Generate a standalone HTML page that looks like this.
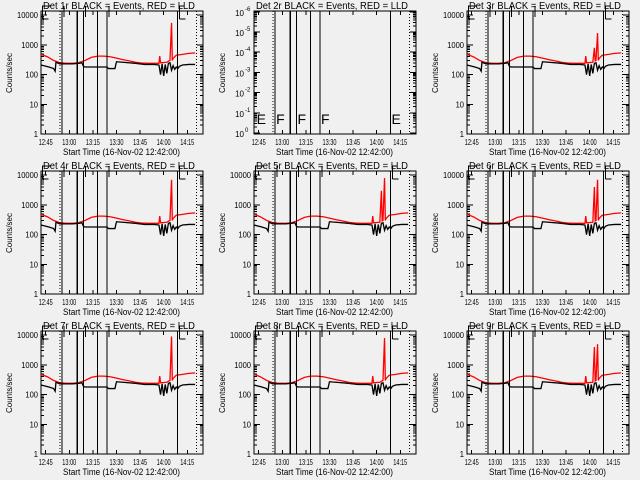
<!DOCTYPE html>
<html><head><meta charset="utf-8"><style>
html,body{margin:0;padding:0;background:#f0f0f0;}
svg{display:block;font-family:"Liberation Sans",sans-serif;}
</style></head><body>
<svg id="c" width="640" height="480" viewBox="0 0 640 480" shape-rendering="crispEdges"></svg>
<script>
// ---- data ----
const detNames = ["1r","2r","3r","4r","5r","6r","7r","8r","9r"];
const xTickLabels = ["12:45","13:00","13:15","13:30","13:45","14:00","14:15"];
const xTickMinutes = [3,18,33,48,63,78,93];
const yTickValues = [1,10,100,1000,10000];
const yTickLabels = ["1","10","100","1000","10000"];
const solidLineMinutes = [13.4,23,27,36,42,86.8];
const dottedLineMinutes = [12,99];
const redT = [0,4,8,12,16,20,24,28,32,36,40,44,48,52,56,60,64,68,72,75,75.5,76,80,81,81.5,82,83,83.5,84,86,90,94,98];
const redBase = [480,400,300,250,240,240,250,300,380,420,420,400,360,320,290,260,245,240,240,240,420,250,260,280,290,300,300,300,350,450,480,520,540];
const redPeak = [5500,null,2500,7000,8000,7000,9000,8000,5000];
const redPeak2 = [0,null,800,0,3000,4000,0,0,4000];
const blackT = [0,5,8,9,9.5,12,16,20,24,26,27,28,34,42,43,47,48,52,60,66,72,75,76,77,78,79,80,81,82,83,84,85,86,87,88,90,94,98];
const blackV = [210,180,160,130,260,230,230,230,240,250,190,180,180,180,160,160,270,260,240,220,220,210,100,230,90,220,110,240,250,140,200,150,180,160,190,210,220,220];
const markerMinutes = [1,13.4,27,42,86.8];
const markerLetters = ["E","F","F","F","E"];

const NS="http://www.w3.org/2000/svg";
const svg=document.getElementById('c');
function mk(tag,attrs,parent){const e=document.createElementNS(NS,tag);for(const k in attrs)e.setAttribute(k,attrs[k]);(parent||svg).appendChild(e);return e;}

for(let p=0;p<9;p++){
  const ox=(p%3)*213, oy=Math.floor(p/3)*160;
  const g=mk('g',{});
  
  
  const X0=ox+41,X1=ox+203,Y0=oy+11,Y1=oy+134;
  const xs=t=>X0+t*(X1-X0)/103;
  const ys=v=>Y1-Math.log10(v)*29.7;
  const ti=mk('text',{x:ox+43,y:oy+9,'font-size':10,fill:'#000',textLength:152,lengthAdjust:'spacingAndGlyphs'},g);
  ti.textContent='Det '+detNames[p]+' BLACK = Events, RED = LLD';
  
  
  const box=mk('rect',{x:X0,y:Y0,width:X1-X0,height:Y1-Y0,fill:'none',stroke:'#000','stroke-width':1},g);
  
  
  xTickMinutes.forEach((m,i)=>{
    const x=xs(m);
    mk('line',{x1:x,y1:Y1,x2:x,y2:Y1-4,stroke:'#000'},g);
    mk('line',{x1:x,y1:Y0,x2:x,y2:Y0+4,stroke:'#000'},g);
    const t=mk('text',{x:x-7,y:oy+145,'font-size':8,fill:'#000',textLength:14,lengthAdjust:'spacingAndGlyphs'},g);
    t.textContent=xTickLabels[i];
    
    
  });
  const xl=mk('text',{x:ox+63,y:oy+155,'font-size':9,fill:'#000',textLength:117,lengthAdjust:'spacingAndGlyphs'},g);
  xl.textContent='Start Time (16-Nov-02 12:42:00)';
  
  
  const yl=mk('text',{x:0,y:0,'font-size':8,'text-anchor':'middle',fill:'#000',transform:`translate(${ox+12},${oy+73}) rotate(-90)`},g);
  yl.textContent='Counts/sec';
  
  
  if(p===1){
    for(let k=0;k<=6;k++){
      const y=Y1-1-k*20.2;
      mk('line',{x1:X0,y1:y,x2:X0+6,y2:y,stroke:'#000'},g);
      mk('line',{x1:X1,y1:y,x2:X1-6,y2:y,stroke:'#000'},g);
      if(k<6)for(let m=2;m<10;m++){const yy=y-Math.log10(m)*20.2;mk('line',{x1:X0,y1:yy,x2:X0+3,y2:yy,stroke:'#000'},g);mk('line',{x1:X1,y1:yy,x2:X1-3,y2:yy,stroke:'#000'},g);}
      const t=mk('text',{x:X0-10,y:y+4,'font-size':8,'text-anchor':'end',fill:'#000'},g);
      t.textContent='10';
      
      
      const s=mk('text',{x:X0-9,y:y-1,'font-size':6,fill:'#000'},g);
      s.textContent=k===0?'0':'-'+k;
    }
    markerMinutes.forEach((m,i)=>{
      const t=mk('text',{x:xs(m)+1,y:Y1-10,'font-size':14,fill:'#000'},g);
      t.textContent=markerLetters[i];
      
      
    });
  } else {
    yTickValues.forEach((v,i)=>{
      const y=ys(v);
      mk('line',{x1:X0,y1:y,x2:X0+6,y2:y,stroke:'#000'},g);
      mk('line',{x1:X1,y1:y,x2:X1-6,y2:y,stroke:'#000'},g);
      if(i<4)for(let m=2;m<10;m++){const yy=ys(v*m);mk('line',{x1:X0,y1:yy,x2:X0+3,y2:yy,stroke:'#000'},g);mk('line',{x1:X1,y1:yy,x2:X1-3,y2:yy,stroke:'#000'},g);}
      const w=yTickLabels[i].length*4.2;
      const t=mk('text',{x:X0-3-w,y:y+3,'font-size':8,fill:'#000',textLength:w,lengthAdjust:'spacingAndGlyphs'},g);
      t.textContent=yTickLabels[i];
      
      
    });
    [[xs(1),xs(6)],[xs(86.8)+2,xs(86.8)+7]].forEach(([a,b])=>{
      mk('path',{d:`M${a},${Y0+8}V${oy+6}H${b}M${a},${Y0+8}H${a+6}`,fill:'none',stroke:'#000'},g);
    });
    [13.4,27,42].forEach(m=>mk('line',{x1:xs(m)+2,y1:oy+6,x2:xs(m)+2,y2:Y0+6,stroke:'#000'},g));
    const rv=redBase.slice();
    rv[26]=redPeak[p];
    if(redPeak2[p])rv[23]=redPeak2[p];
    const rp=mk('polyline',{points:redT.map((t,i)=>xs(t)+','+ys(rv[i])).join(' '),fill:'none',stroke:'#ff0000','stroke-width':1.3,'shape-rendering':'auto'},g);
    
    
    const bp=mk('polyline',{points:blackT.map((t,i)=>xs(t)+','+ys(blackV[i])).join(' '),fill:'none',stroke:'#000','stroke-width':1.3,'shape-rendering':'auto'},g);
    
    
  }
  solidLineMinutes.forEach(m=>{
    const l=mk('line',{x1:xs(m),y1:Y0,x2:xs(m),y2:Y1,stroke:'#000','stroke-width':1.2},g);
    
    
  });
  dottedLineMinutes.forEach(m=>{
    const l=mk('line',{x1:xs(m),y1:Y0,x2:xs(m),y2:Y1,stroke:'#000','stroke-dasharray':'1,2'},g);
    
    
  });
}
</script>
</body></html>
